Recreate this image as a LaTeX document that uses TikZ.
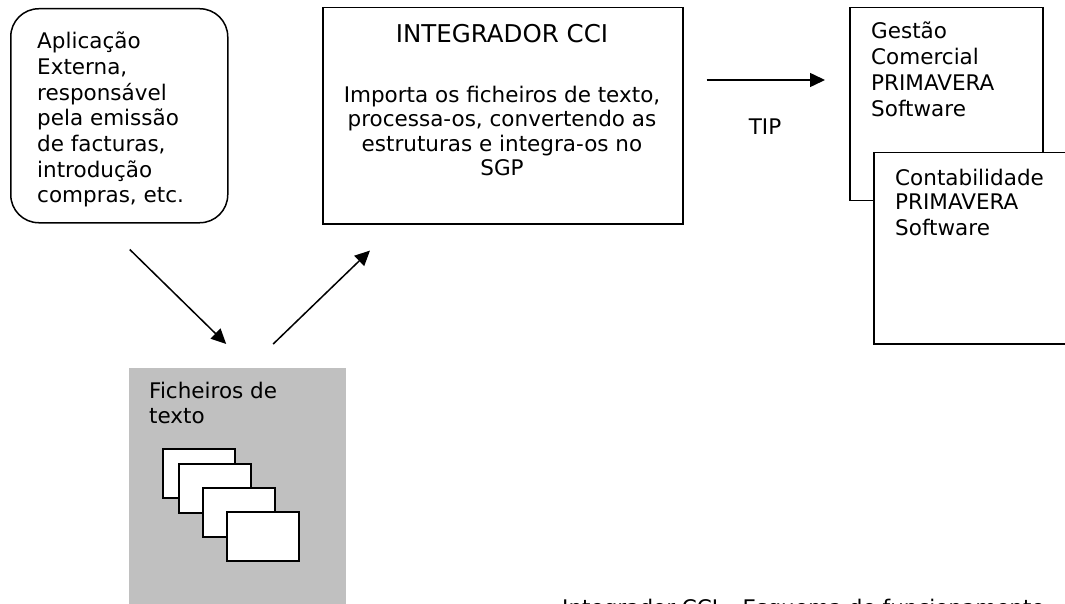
\documentclass[tikz,border=0pt]{standalone}
\usepackage{fontspec}
\setmainfont{DejaVu Sans}
\usetikzlibrary{arrows.meta,calc}
\definecolor{ficgray}{RGB}{192,192,192}

\begin{document}
\begin{tikzpicture}[x=1pt, y=-1pt,
  frame/.style = {draw, line width=1.5pt, inner sep=0, anchor=north west},
  txt/.style = {inner sep=0, font=\fontsize{21.5}{#1}\selectfont},
  txt/.default = 25.5,
  flow/.style = {line width=1.5pt, -{Triangle[length=15pt,width=14pt]}},
  docpage/.style = {draw, fill=white, line width=1.5pt, minimum width=72pt, minimum height=49pt, inner sep=0, anchor=north west}]

\useasboundingbox (0,0) rectangle (1065,604);
\clip (0,0) rectangle (1065,604);

% external application
\node[frame, rounded corners=28pt, minimum width=217pt, minimum height=214pt](app) at (10,8) {};
\node[txt=25.7, align=left, anchor=base west](apptext) at (37,203) {Aplicação\\Externa,\\responsável\\pela emissão\\de facturas,\\introdução\\compras, etc.};

% integrator
\node[frame, minimum width=360pt, minimum height=216pt](cci) at (322,7) {};
\node[txt, font=\fontsize{24.5}{28}\selectfont, anchor=base](ccititle) at (502,43) {INTEGRADOR CCI};
\node[txt=24.5, align=center, anchor=base](ccitext) at (502,176) {Importa os ficheiros de texto,\\processa-os, convertendo as\\estruturas e integra-os no\\SGP};

% primavera
\node[frame, minimum width=193pt, minimum height=193pt](gest) at (849,7) {};
\node[txt=26, align=left, anchor=base west](gesttext) at (871,117) {Gestão\\Comercial\\PRIMAVERA\\Software};
\node[frame, fill=white, minimum width=210pt, minimum height=191pt](cont) at (873,152) {};
\node[txt=25, align=left, anchor=base west](conttext) at (895,235) {Contabilidade\\PRIMAVERA\\Software};

% text files
\node[fill=ficgray, inner sep=0, minimum width=217pt, minimum height=245pt, anchor=north west](fich) at (129,368) {};
\node[txt=25, align=left, anchor=base west](fichtext) at (149,423) {Ficheiros de\\texto};
\foreach \i/\x/\y in {1/162/448, 2/178/463, 3/202/487, 4/226/511}
  \node[docpage](doc\i) at (\x,\y) {};

% flows
\draw[flow] ($(app.south)+(10.5,26)$) -- ($(fich.north)+(-11.5,-24)$);
\draw[flow] ($(fich.north)+(35.5,-24)$) -- ($(cci.south west)+(48,26)$);
\draw[flow] ($(cci.north east)+(23,73)$) -- ($(gest.north west)+(-24,73)$);
\node[txt](tip) at (765,127) {TIP};

\node[txt, anchor=base west](caption) at (562,615) {Integrador CCI – Esquema de funcionamento};

\end{tikzpicture}
\end{document}
